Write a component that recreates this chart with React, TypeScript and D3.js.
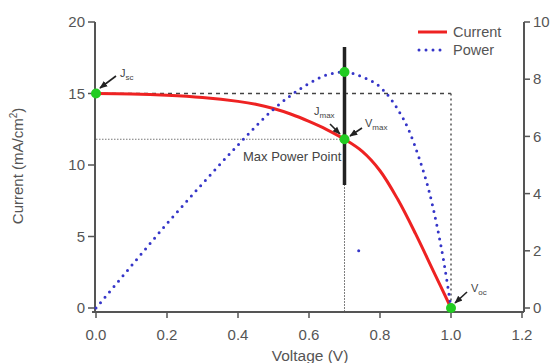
import React from "react";
import * as d3 from "d3";

const currentVoltage = [0, 0.1, 0.2, 0.3, 0.4, 0.45, 0.5, 0.55, 0.6, 0.65, 0.7, 0.75, 0.8, 0.85, 0.9, 0.95, 1.0];
const currentValues = [15, 14.97, 14.88, 14.72, 14.45, 14.25, 13.95, 13.55, 13.05, 12.48, 11.8, 10.95, 9.6, 7.6, 5.2, 2.6, 0];

const powerVoltage = [0, 0.1, 0.2, 0.3, 0.4, 0.5, 0.6, 0.65, 0.7, 0.75, 0.8, 0.85, 0.88, 0.91, 0.94, 0.96, 0.98, 1.0];
const powerValues = [0, 1.48, 2.95, 4.35, 5.7, 6.95, 7.85, 8.15, 8.25, 8.08, 7.73, 6.95, 6.25, 5.25, 4.0, 2.9, 1.6, 0];

const strayPower = [{ v: 0.74, p: 2.0 }];

const xTicks = [0, 0.2, 0.4, 0.6, 0.8, 1.0, 1.2];
const leftTicks = [0, 5, 10, 15, 20];
const rightTicks = [0, 2, 4, 6, 8, 10];

const Jsc = 15;
const Voc = 1.0;
const Vmax = 0.7;
const Jmax = 11.8;
const Pmax = 8.25;
const markerRange = [8.6, 18.25];

const FONT = "'Liberation Sans', Arial, sans-serif";

export default function App() {
  const W = 555, H = 363;
  const x = d3.scaleLinear().domain([0, 1.2]).range([96, 522]);
  const yL = d3.scaleLinear().domain([0, 20]).range([308, 22]);
  const yR = d3.scaleLinear().domain([0, 10]).range([308, 22]);

  const leftAxisX = 95;
  const rightAxisX = 524;
  const bottomAxisY = 312;
  const axisColor = "#555";
  const textColor = "#555";

  const curLine = d3
    .line<number>()
    .x((_, i) => x(currentVoltage[i]))
    .y((d) => yL(d))
    .curve(d3.curveCatmullRom.alpha(0.5));
  const powLine = d3
    .line<number>()
    .x((_, i) => x(powerVoltage[i]))
    .y((d) => yR(d))
    .curve(d3.curveMonotoneX);

  const green = "#22cc22";

  const arrow = (x1: number, y1: number, x2: number, y2: number, key: string) => (
    <line key={key} x1={x1} y1={y1} x2={x2} y2={y2} stroke="#222" strokeWidth={1.6} markerEnd="url(#arr)" />
  );

  return (
    <svg width={W} height={H} style={{ position: "absolute", left: 0, top: 0, background: "#fff" }} fontFamily={FONT}>
      <defs>
        <marker id="arr" viewBox="0 0 10 10" refX="9" refY="5" markerWidth="5" markerHeight="5" orient="auto">
          <path d="M0,1 L10,5 L0,9 z" fill="#222" />
        </marker>
      </defs>

      {/* axes */}
      <line x1={leftAxisX} y1={yL(20)} x2={leftAxisX} y2={bottomAxisY} stroke={axisColor} strokeWidth={2} />
      <line x1={rightAxisX} y1={yR(10)} x2={rightAxisX} y2={bottomAxisY} stroke={axisColor} strokeWidth={2} />
      <line x1={leftAxisX - 3} y1={bottomAxisY} x2={rightAxisX} y2={bottomAxisY} stroke={axisColor} strokeWidth={2} />

      {leftTicks.map((t) => (
        <g key={"l" + t}>
          <line x1={leftAxisX - 7} x2={leftAxisX} y1={yL(t)} y2={yL(t)} stroke={axisColor} strokeWidth={1.5} />
          <text x={leftAxisX - 10} y={yL(t)} dy="0.35em" textAnchor="end" fontSize={15} fill={textColor}>
            {t}
          </text>
        </g>
      ))}
      {rightTicks.map((t) => (
        <g key={"r" + t}>
          <line x1={rightAxisX} x2={rightAxisX + 6} y1={yR(t)} y2={yR(t)} stroke={axisColor} strokeWidth={1.5} />
          <text x={rightAxisX + 9} y={yR(t)} dy="0.35em" textAnchor="start" fontSize={15} fill={textColor}>
            {t}
          </text>
        </g>
      ))}
      {xTicks.map((t) => (
        <g key={"x" + t}>
          <line x1={x(t)} x2={x(t)} y1={bottomAxisY} y2={bottomAxisY + 6} stroke={axisColor} strokeWidth={1.5} />
          <text x={x(t)} y={340} textAnchor="middle" fontSize={15} fill={textColor}>
            {t.toFixed(1)}
          </text>
        </g>
      ))}

      {/* axis titles */}
      <text transform={`translate(23,166) rotate(-90)`} textAnchor="middle" fontSize={15} fill={textColor}>
        Current (mA/cm<tspan dy="-6" fontSize={10}>2</tspan>
        <tspan dy="6">)</tspan>
      </text>
      <text x={310} y={361} textAnchor="middle" fontSize={15.5} fill={textColor}>
        Voltage (V)
      </text>

      {/* guide lines */}
      <line x1={x(0)} x2={x(Voc)} y1={yL(Jsc)} y2={yL(Jsc)} stroke="#444" strokeWidth={1.5} strokeDasharray="4,4" />
      <line x1={x(Voc)} x2={x(Voc)} y1={yL(Jsc)} y2={yL(0)} stroke="#555" strokeWidth={1.5} strokeDasharray="2,3" />
      <line x1={x(0)} x2={x(Vmax)} y1={yL(Jmax)} y2={yL(Jmax)} stroke="#777" strokeWidth={1} strokeDasharray="1.5,1.5" />
      <line x1={x(Vmax)} x2={x(Vmax)} y1={yL(Jmax)} y2={bottomAxisY} stroke="#555" strokeWidth={1} strokeDasharray="1.5,1.5" />

      {/* curves */}
      <path d={curLine(currentValues) || ""} fill="none" stroke="#ee2222" strokeWidth={3} />
      <path
        d={powLine(powerValues) || ""}
        fill="none"
        stroke="#3535c8"
        strokeWidth={3}
        strokeDasharray="0,7"
        strokeLinecap="round"
      />
      {strayPower.map((d, i) => (
        <circle key={"s" + i} cx={x(d.v)} cy={yR(d.p)} r={1.5} fill="#3535c8" />
      ))}

      {/* max power marker line */}
      <line x1={x(Vmax)} x2={x(Vmax)} y1={yL(markerRange[1])} y2={yL(markerRange[0])} stroke="#222" strokeWidth={3.5} />

      {/* Max Power Point label */}
      <text x={243} y={161} fontSize={13} fill="#444">
        Max Power Point
      </text>

      {/* green markers */}
      <circle cx={x(0)} cy={yL(Jsc)} r={5} fill={green} />
      <circle cx={x(Vmax)} cy={yL(Jmax)} r={5} fill={green} />
      <circle cx={x(Vmax)} cy={yR(Pmax)} r={5} fill={green} />
      <circle cx={x(Voc)} cy={yL(0)} r={5} fill={green} />

      {/* annotations */}
      {arrow(116, 76, 100, 88, "a1")}
      <text x={120} y={77} fontSize={11} fill="#444">
        J<tspan dy="3" fontSize={8}>sc</tspan>
      </text>
      {arrow(330, 124, 340, 134, "a2")}
      <text x={314} y={115} fontSize={11} fill="#444">
        J<tspan dy="3" fontSize={8}>max</tspan>
      </text>
      {arrow(362, 128, 350, 136, "a3")}
      <text x={365} y={127} fontSize={11} fill="#444">
        V<tspan dy="3" fontSize={8}>max</tspan>
      </text>
      {arrow(467, 292, 455, 303, "a4")}
      <text x={471} y={292} fontSize={11} fill="#444">
        V<tspan dy="3" fontSize={8}>oc</tspan>
      </text>

      {/* legend */}
      <line x1={418} x2={447} y1={32} y2={32} stroke="#ee2222" strokeWidth={3} />
      <text x={453} y={32} dy="0.35em" fontSize={14.5} fill={textColor}>
        Current
      </text>
      <line x1={419} x2={447} y1={50} y2={50} stroke="#3535c8" strokeWidth={3} strokeDasharray="0,7" strokeLinecap="round" />
      <text x={453} y={50} dy="0.35em" fontSize={14.5} fill={textColor}>
        Power
      </text>
    </svg>
  );
}
